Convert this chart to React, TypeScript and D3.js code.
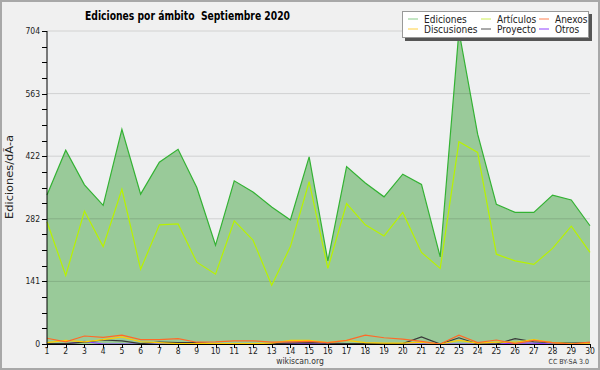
import React from 'react';
import * as d3 from 'd3';

const days = [1,2,3,4,5,6,7,8,9,10,11,12,13,14,15,16,17,18,19,20,21,22,23,24,25,26,27,28,29,30];
const ediciones = [335,436,358,312,483,337,409,438,352,222,367,342,308,279,421,187,399,362,331,382,359,196,704,472,314,296,296,335,324,266];
const articulos = [275,154,299,219,348,168,268,270,184,157,277,234,132,219,365,170,316,268,243,296,206,170,455,431,202,187,179,215,265,206];
const anexos = [13,5,18,15,20,10,10,12,4,5,7,7,4,5,6,3,8,20,14,11,6,0,20,3,9,1,8,3,0,4];
const discusiones = [3,8,5,10,16,5,3,1,1,1,1,1,2,8,8,3,8,3,2,2,4,0,8,2,4,4,10,3,1,2];
const proyecto = [1,1,4,9,7,1,4,3,3,0,1,1,1,2,3,2,1,1,1,1,16,0,14,0,0,12,5,3,2,3];
const otros = [0,0,6,0,0,0,0,0,0,0,0,0,1,2,1,0,0,0,0,0,0,0,0,0,0,2,2,0,0,0];
const yTickLabels = [0,141,282,422,563,704];
const yMax = 704;
const title = 'Ediciones por ámbito  Septiembre 2020';
const yTitle = 'Ediciones/dÃ-a';

const FONT = "'DejaVu Sans Condensed', 'DejaVu Sans', sans-serif";

export default function App() {
  const W = 600, H = 370;
  const x = d3.scaleLinear().domain([1, 30]).range([47, 590]);
  const y = d3.scaleLinear().domain([0, yMax]).range([344, 31]);
  const line = d3.line<number>().x((_, i) => x(days[i])).y(d => y(d));
  const area = d3.area<number>().x((_, i) => x(days[i])).y0(y(0)).y1(d => y(d));
  const majors = d3.range(0, 6).map(i => (i * yMax) / 5);
  const minors = d3.range(0, 21).map(i => (i * yMax) / 20);

  const series = [
    { name: 'Otros', data: otros, color: '#8a3cff' },
    { name: 'Proyecto', data: proyecto, color: '#3a3a3a' },
    { name: 'Discusiones', data: discusiones, color: '#ffcc00' },
    { name: 'Anexos', data: anexos, color: '#ff6a28' },
  ];

  const legend = [
    { label: 'Ediciones', color: '#88cc88', col: 0, row: 0 },
    { label: 'Artículos', color: '#ccee55', col: 1, row: 0 },
    { label: 'Anexos', color: '#ff8050', col: 2, row: 0 },
    { label: 'Discusiones', color: '#ffd040', col: 0, row: 1 },
    { label: 'Proyecto', color: '#555555', col: 1, row: 1 },
    { label: 'Otros', color: '#9040ff', col: 2, row: 1 },
  ];
  const colX = [408, 481, 539];

  return (
    <div>
      <style>{`body{margin:0}`}</style>
      <svg width={W} height={H} style={{ display: 'block', fontFamily: FONT, fontStretch: 'condensed' }}>
        <rect x={0} y={0} width={W} height={H} fill="#f0f0f0" />
        <rect x={1} y={1} width={W - 2} height={H - 2} fill="none" stroke="#a8a8a8" strokeWidth={2} />
        <rect x={47} y={31} width={543} height={313} fill="#eff0f1" />
        <path d={area(ediciones) || ''} fill="#99ca99" />
        {majors.slice(1).map((v, i) => (
          <line key={'g' + i} x1={47} x2={590} y1={y(v)} y2={y(v)} stroke="rgba(0,0,0,0.13)" strokeWidth={1} />
        ))}
        <path d={line(ediciones) || ''} fill="none" stroke="#33b233" strokeWidth={1.2} />
        <path d={line(articulos) || ''} fill="none" stroke="#b8f200" strokeWidth={1.2} />
        {series.map(s => (
          <path key={s.name} d={line(s.data) || ''} fill="none" stroke={s.color} strokeWidth={1.2} />
        ))}
        <line x1={47} x2={47} y1={31} y2={344.5} stroke="#000" strokeWidth={1} />
        <line x1={47} x2={590} y1={344.5} y2={344.5} stroke="#000" strokeWidth={1} />
        {minors.map((v, i) => (
          <line key={'m' + i} x1={42} x2={47} y1={Math.round(y(v)) + 0.5} y2={Math.round(y(v)) + 0.5} stroke="#000" />
        ))}
        {majors.map((v, i) => (
          <text key={'yl' + i} x={40} y={y(v) + 3} fontSize={8.5} textAnchor="end" fill="#222">{yTickLabels[i]}</text>
        ))}
        {days.map(d => (
          <g key={'x' + d}>
            <line x1={Math.round(x(d)) + 0.5} x2={Math.round(x(d)) + 0.5} y1={344} y2={348} stroke="#000" />
            <text x={x(d)} y={354} fontSize={8.5} textAnchor="middle" fill="#222">{d}</text>
          </g>
        ))}
        <text x={187.5} y={20} fontSize={12} fontWeight="bold" textAnchor="middle" fill="#000"
          textLength={205} lengthAdjust="spacingAndGlyphs" style={{ whiteSpace: 'pre' }}>{title}</text>
        <text transform={`translate(13,${177}) rotate(-90)`} fontSize={10.5} textAnchor="middle" fill="#222"
          textLength={84} lengthAdjust="spacingAndGlyphs">{yTitle}</text>
        <text x={300} y={364} fontSize={8.5} textAnchor="middle" fill="#333">wikiscan.org</text>
        <text x={589} y={364} fontSize={7} textAnchor="end" fill="#333">CC BY-SA 3.0</text>
        <rect x={405} y={14} width={187} height={27} fill="#555" />
        <rect x={402.5} y={11.5} width={186} height={26} fill="#fff" stroke="#999" />
        {legend.map(l => (
          <g key={l.label}>
            <line x1={colX[l.col]} x2={colX[l.col] + 10} y1={19 + l.row * 10} y2={19 + l.row * 10} stroke={l.color} strokeWidth={1} />
            <text x={colX[l.col] + 16} y={22.5 + l.row * 10} fontSize={10} fill="#222">{l.label}</text>
          </g>
        ))}
      </svg>
    </div>
  );
}
